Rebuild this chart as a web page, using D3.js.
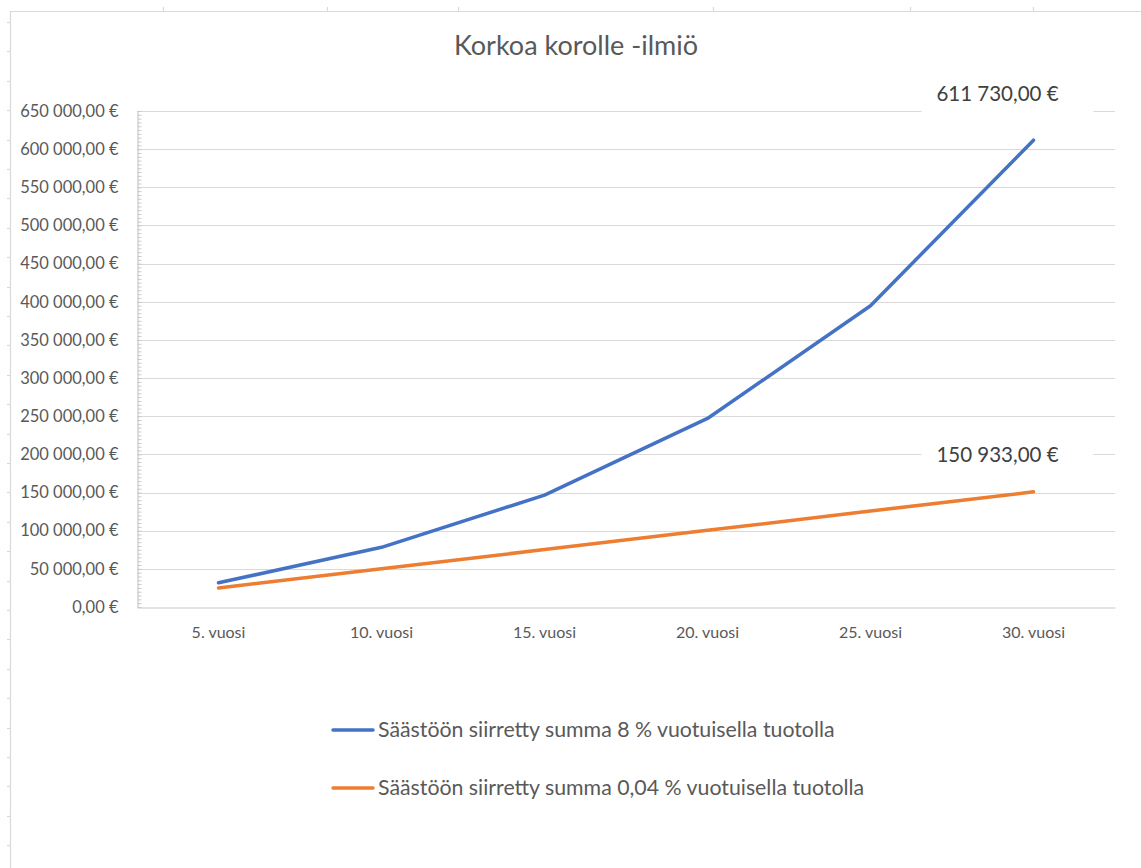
<!DOCTYPE html>
<html>
<head>
<meta charset="utf-8">
<script src="https://cdn.jsdelivr.net/npm/d3@7"></script>
<style>
  html, body { margin: 0; padding: 0; background: #fff; }
  svg { display: block; }
  text { font-family: Lato, "Open Sans", sans-serif; }
</style>
</head>
<body>
<script>
// Categories (savings horizon)
const years = ["5. vuosi", "10. vuosi", "15. vuosi", "20. vuosi", "25. vuosi", "30. vuosi"];
// Accumulated savings, 8 % yearly return
const high = [31680, 78230, 146620, 247110, 394770, 611730];
// Accumulated savings, 0,04 % yearly return
const low = [25030, 50110, 75250, 100440, 125660, 150933];
// Series names shown in the legend
const seriesNames = [
  "Säästöön siirretty summa 8 % vuotuisella tuotolla",
  "Säästöön siirretty summa 0,04 % vuotuisella tuotolla"
];
// Value axis ticks
const yTicks = d3.range(0, 650001, 50000);
const title = "Korkoa korolle -ilmiö";

const W = 1141, H = 868;
const plot = { left: 137, right: 1115, top: 111, bottom: 607 };

const svg = d3.select("body").append("svg").attr("width", W).attr("height", H);

// Chart frame with the sheet cell marks around it
const frame = svg.append("g").attr("stroke", "#d9d9d9").attr("stroke-width", 1.2);
frame.append("line").attr("x1", 10).attr("x2", W).attr("y1", 11.5).attr("y2", 11.5);
frame.append("line").attr("x1", 10.5).attr("x2", 10.5).attr("y1", 11).attr("y2", H);
[163, 327, 458, 713, 910, 1033].forEach(x => {
  frame.append("line").attr("x1", x + 0.5).attr("x2", x + 0.5).attr("y1", 7).attr("y2", 11);
});
d3.range(22, H, 29.4).forEach(y => {
  frame.append("line").attr("x1", 7).attr("x2", 10).attr("y1", Math.round(y) + 0.5).attr("y2", Math.round(y) + 0.5);
});

const x = d3.scaleBand().domain(years).range([plot.left, plot.right]).padding(0);
const y = d3.scaleLinear().domain([0, 650000]).range([plot.bottom, plot.top]);
const cx = d => x(d) + x.bandwidth() / 2;

// Horizontal gridlines
svg.append("g")
  .selectAll("line").data(yTicks.filter(v => v > 0)).join("line")
  .attr("x1", plot.left).attr("x2", plot.right)
  .attr("y1", d => Math.round(y(d)) + 0.5).attr("y2", d => Math.round(y(d)) + 0.5)
  .attr("stroke", "#d9d9d9").attr("stroke-width", 1.2);

// Value axis with minor ticks
const fmt = v => {
  const s = d3.format(",.2f")(v).replace(/,/g, " ").replace(".", ",");
  return s + " €";
};
const yAxis = d3.axisLeft(y).tickValues(yTicks).tickSize(0).tickPadding(19).tickFormat(fmt);
const gy = svg.append("g").attr("transform", `translate(${plot.left + 0.5},0)`).call(yAxis);
gy.select(".domain").attr("stroke", "#c8c8c8").attr("stroke-width", 1.2);
gy.selectAll("text").attr("fill", "#595959").attr("font-size", 16.5);
const minor = d3.axisRight(y).tickValues(d3.range(0, 650001, 5000)).tickSize(4).tickFormat("");
const gm = svg.append("g").attr("transform", `translate(${plot.left + 0.5},0)`).call(minor);
gm.select(".domain").remove();
gm.selectAll("line").attr("stroke", "#c8c8c8");

// Category axis
const xAxis = d3.axisBottom(x).tickSize(0).tickPadding(19);
const gx = svg.append("g").attr("transform", `translate(0,${Math.round(y(0)) + 0.5})`).call(xAxis);
gx.select(".domain").attr("stroke", "#c8c8c8").attr("stroke-width", 1.2);
gx.selectAll("text").attr("fill", "#595959").attr("font-size", 16);

// Series lines
const series = [
  { values: high, color: "#4472C4", name: seriesNames[0], labelDy: -46 },
  { values: low, color: "#ED7D31", name: seriesNames[1], labelDy: -37 }
];
const line = d3.line().x((d, i) => cx(years[i])).y(d => y(d));
series.forEach(s => {
  svg.append("path").datum(s.values)
    .attr("d", line).attr("fill", "none")
    .attr("stroke", s.color).attr("stroke-width", 3.5)
    .attr("stroke-linecap", "round").attr("stroke-linejoin", "round");
});

// Value labels on the last point
series.forEach(s => {
  const last = s.values.length - 1;
  const px = cx(years[last]), py = y(s.values[last]) + s.labelDy;
  svg.append("rect")
    .attr("x", px - 112).attr("y", py - 20).attr("width", 172).attr("height", 40)
    .attr("fill", "#fff");
  svg.append("text")
    .attr("x", px - 36).attr("y", py).attr("dy", "0.35em")
    .attr("text-anchor", "middle").attr("fill", "#404040").attr("font-size", 20.5)
    .text(fmt(s.values[last]));
});

// Title
svg.append("text")
  .attr("x", 576).attr("y", 46).attr("dy", "0.35em")
  .attr("text-anchor", "middle").attr("fill", "#595959").attr("font-size", 27)
  .text(title);

// Legend
const lg = svg.append("g");
series.forEach((s, i) => {
  const ly = 730 + i * 58;
  lg.append("line").attr("x1", 333).attr("x2", 373).attr("y1", ly).attr("y2", ly)
    .attr("stroke", s.color).attr("stroke-width", 3.5).attr("stroke-linecap", "round");
  lg.append("text").attr("x", 378).attr("y", ly).attr("dy", "0.35em")
    .attr("fill", "#595959").attr("font-size", 21.3).text(s.name);
});
</script>
</body>
</html>
